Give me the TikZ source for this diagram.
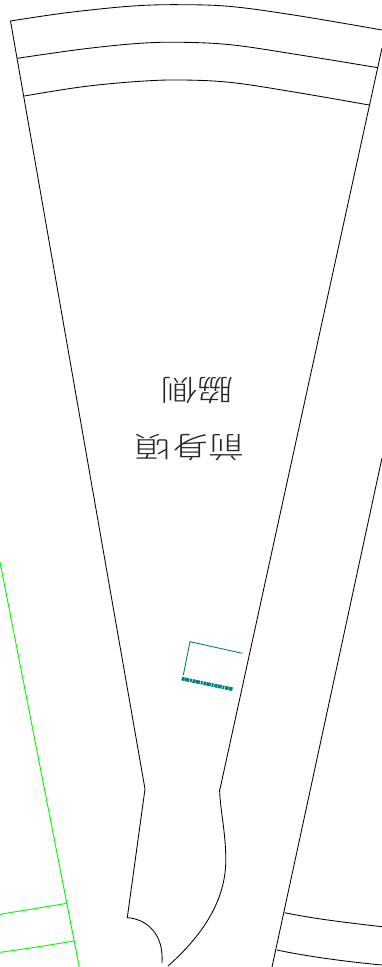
\documentclass[tikz,border=0pt]{standalone}
\usepackage{fontspec}
\newfontfamily\cjk{Noto Sans CJK JP Light}
\tikzset{
  pattern line/.style={draw=black,line width=0.85pt,line join=miter},
  green line/.style={draw=green,line width=0.95pt},
  teal line/.style={draw=teal,line width=0.9pt},
  label text/.style={font=\cjk\fontsize{29}{29}\selectfont,text=black!85,inner sep=0pt,rotate=180,xscale=1.25}
}
\begin{document}
\begin{tikzpicture}[x=1pt,y=-1pt]
\useasboundingbox (0,0) rectangle (382,967);
\clip (0,0) rectangle (382,967);
% main piece
\draw[pattern line] (382,48) -- (220,789);
\draw[pattern line] (219.6,789) .. controls (219.8,808) and (225.8,832) .. (225.8,860)
  .. controls (225.8,900) and (203,935) .. (168,966);
\draw[pattern line] (10.5,21) -- (145,789) -- (127.3,917.6)
  .. controls (146,919) and (164,933) .. (162,963);
% bands
\draw[pattern line] plot[smooth,tension=0.6] coordinates {(10.5,21) (67,12.7) (133,6) (183,4.7) (233,6.7) (300,16) (382,30)};
\draw[pattern line] plot[smooth,tension=0.6] coordinates {(17.3,58.3) (83,49) (140,43.3) (183,42.3) (233,45) (300,55) (378,67.7)};
\draw[pattern line] plot[smooth,tension=0.6] coordinates {(24.3,96) (83,86.7) (140,81.3) (183,80) (233,82.7) (300,93) (369,105)};
% right neighbouring piece
\draw[pattern line] (382,458) -- (272,967);
\draw[pattern line] (284.7,912.7) .. controls (315,919) and (350,923) .. (382,926.7);
\draw[pattern line] (277,950) .. controls (310,957) and (350,962) .. (382,965);
% left green piece
\draw[green line] (0,562) -- (79.3,967);
\draw[green line] (66.7,903.3) .. controls (45,907) and (20,911) .. (0,914.3);
\draw[green line] (74,941) .. controls (50,945) and (25,949) .. (0,952.3);
% teal mark
\draw[teal line] (242.3,653.3) -- (190,641.7) -- (183.3,675);
\draw[teal,line width=3.6pt,dash pattern=on 3pt off 0.5pt on 4pt off 0.8pt on 2pt off 0.8pt] (181.7,678.6) -- (232.5,689.2);
% texts
\node[label text] (front) at (190,447.5) {前身頃};
\node[label text] (side) at (197,390.5) {脇側};
\end{tikzpicture}
\end{document}
